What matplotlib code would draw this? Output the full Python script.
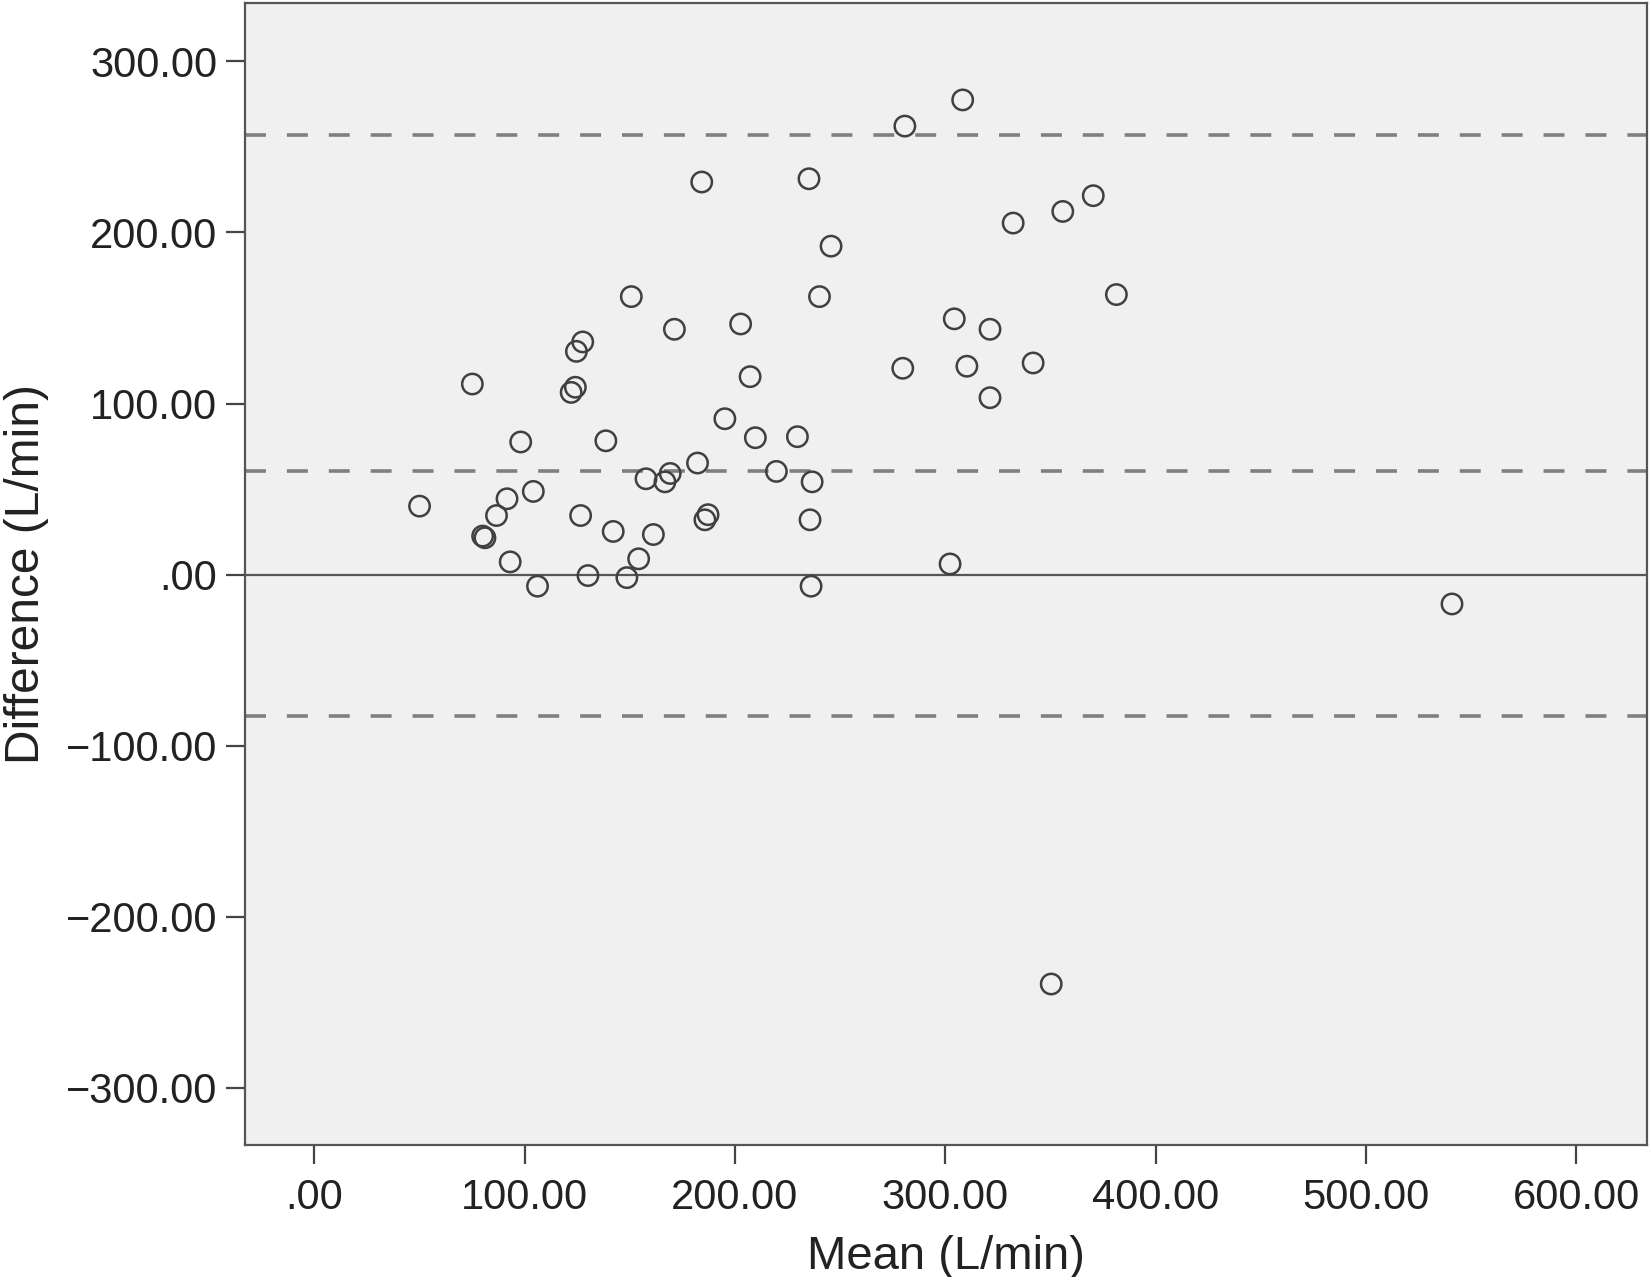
import matplotlib.pyplot as plt
from matplotlib.ticker import FuncFormatter

plt.rcParams['font.family'] = ['Liberation Sans', 'DejaVu Sans']

# Bland-Altman data (L/min)
mean_vals = [50.0, 75.1, 81.1, 80.0, 86.6, 91.6, 93.1, 98.1, 104.1, 106.1,
             122.1, 124.1, 124.6, 127.6, 126.6, 130.1, 138.6, 142.1, 148.6, 150.7,
             154.2, 157.7, 161.2, 166.7, 169.2, 171.2, 182.2, 184.2, 185.7, 187.2,
             195.2, 202.7, 207.2, 209.7, 219.7, 229.7, 235.2, 236.7, 235.7, 236.2,
             240.2, 245.7, 279.8, 280.8, 302.3, 304.3, 308.3, 310.3, 321.3, 321.3,
             332.3, 341.8, 350.4, 355.9, 370.4, 381.4, 541.0]
diff_vals = [40.0, 111.4, 21.5, 22.5, 34.5, 44.3, 7.4, 77.5, 48.6, -6.8,
             106.5, 109.5, 130.5, 136.0, 34.5, -0.6, 78.2, 25.2, -1.8, 162.5,
             9.2, 56.0, 23.4, 54.2, 59.1, 143.4, 65.2, 229.5, 32.0, 35.0,
             91.1, 146.5, 115.7, 80.0, 60.3, 80.6, 231.4, 54.2, 32.0, -6.8,
             162.5, 192.0, 120.6, 262.2, 6.2, 149.5, 277.5, 121.8, 143.4, 103.4,
             205.5, 123.7, -239.4, 212.3, 221.5, 163.7, -17.2]

mean_diff = 60.3
upper_loa = 257.2
lower_loa = -82.5

x_ticks = [0, 100, 200, 300, 400, 500, 600]
y_ticks = [-300, -200, -100, 0, 100, 200, 300]


def spss_fmt(v, pos):
    s = f"{abs(v):.2f}"
    if s.startswith("0"):
        s = s[1:]
    return ("\u2212" + s) if v < 0 else s


fig = plt.figure(figsize=(16.5, 12.77), dpi=100)
ax = fig.add_axes([0.1485, 0.1034, 0.8495, 0.8943])
ax.set_facecolor('#f0f0f0')

ax.axhline(0, color='#555555', lw=1.6, zorder=1)
for yv in [upper_loa, mean_diff, lower_loa]:
    ax.axhline(yv, color='#7f7f7f', lw=2.6, dashes=(5.8, 5.8), zorder=1)

ax.scatter(mean_vals, diff_vals, s=215, facecolors='none', edgecolors='#404040',
           linewidths=1.8, zorder=3)

ax.set_xlim(-33, 633.6)
ax.set_ylim(-333.5, 334.2)
ax.set_xticks(x_ticks)
ax.set_yticks(y_ticks)
ax.xaxis.set_major_formatter(FuncFormatter(spss_fmt))
ax.yaxis.set_major_formatter(FuncFormatter(spss_fmt))

for sp in ax.spines.values():
    sp.set_color('#555555')
    sp.set_linewidth(1.6)

ax.tick_params(axis='both', direction='out', length=14, width=1.6, color='#444444',
               labelsize=30, labelcolor='#222222')
ax.tick_params(axis='x', pad=10)
ax.tick_params(axis='y', pad=6)

ax.set_xlabel('Mean (L/min)', fontsize=34, color='#222222', labelpad=12)
ax.set_ylabel('Difference (L/min)', fontsize=34.5, color='#222222', labelpad=12)

fig.savefig('out.png', dpi=100)
